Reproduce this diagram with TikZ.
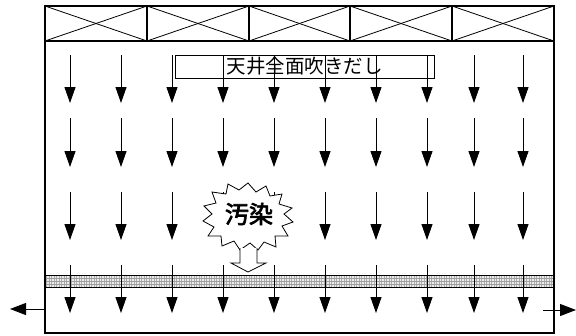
\documentclass[tikz,border=0pt]{standalone}
\usepackage{fontspec}
\newfontfamily\cjk{Noto Sans CJK JP}
\newfontfamily\cjkbold{Noto Sans CJK JP}[FakeBold=3]
\usetikzlibrary{arrows.meta}
\tikzset{
  frame/.style={line width=1.1pt, draw=black},
  thinframe/.style={line width=0.8pt, draw=black},
  flow/.style={line width=1pt, -{Triangle[length=16pt,width=11pt]}},
  exitarrow/.style={line width=1pt, -{Triangle[length=16pt,width=12pt]}},
  hatchv/.style={line width=0.35pt, draw=gray!65},
}
\begin{document}
\begin{tikzpicture}[x=1pt,y=-1pt]
\useasboundingbox (0,0) rectangle (576,335);
% ceiling band
\foreach \i/\a/\b in {1/45/147,2/147/249,3/249/350,4/350/452,5/452/554}{
  \coordinate (c\i tl) at (\a,6);
  \coordinate (c\i br) at (\b,41);
  \coordinate (c\i tr) at (\b,6);
  \coordinate (c\i bl) at (\a,41);
  \draw[thinframe] (c\i tl) -- (c\i br);
  \draw[thinframe] (c\i bl) -- (c\i tr);
  \draw[frame] (c\i tl) rectangle (c\i br);
}
% filter band
\coordinate (fA) at (45,275);
\coordinate (fB) at (554,287);
\fill[gray!15] (fA) rectangle (fB);
\foreach \x in {46.5,49,...,553}{
  \draw[hatchv] (\x,275) -- (\x,287);
}
\foreach \y in {278,281,284}{
  \draw[line width=0.35pt, gray!75] (45,\y) -- (554,\y);
}
\draw[line width=0.8pt] (fA) rectangle (fB);
% outer room
\coordinate (rTL) at (45,6);
\coordinate (rBR) at (554,333);
\draw[frame] (rTL) rectangle (rBR);
% label box
\node[draw, line width=0.8pt, minimum width=259pt, minimum height=23pt, inner sep=0pt,
      font=\cjk\fontsize{19.5}{21}\selectfont] (ceil) at (304.5,66.5) {天井全面吹きだし};
% flow arrows
\foreach \x [count=\n] in {70,121,172,223,274,325,376,427,474,523}{
  \coordinate (a\n r1s) at (\x,55);  \coordinate (a\n r1e) at (\x,103);
  \coordinate (a\n r2s) at (\x,118); \coordinate (a\n r2e) at (\x,167);
  \coordinate (a\n r3s) at (\x,192); \coordinate (a\n r3e) at (\x,240);
  \coordinate (a\n r4s) at (\x,265); \coordinate (a\n r4e) at (\x,313);
  \draw[flow] (a\n r1s) -- (a\n r1e);
  \draw[flow] (a\n r2s) -- (a\n r2e);
  \draw[flow] (a\n r3s) -- (a\n r3e);
  \draw[flow] (a\n r4s) -- (a\n r4e);
}
% exits
\coordinate (exL) at (10,309);
\coordinate (exR) at (576,310);
\coordinate (exRs) at (543,310);
\coordinate (exLs) at (45,309);
\draw[exitarrow] (exLs) -- (exL);
\draw[exitarrow] (exRs) -- (exR);
% contamination burst
\coordinate (burst) at (248,216);
\draw[line width=0.8pt, fill=white]
  (248,183) -- (256,192) -- (266,186) -- (270,196) -- (282,194) -- (279,204) -- (292,208) -- (284,214)
  -- (293,222) -- (282,226) -- (288,236) -- (275,236) -- (276,247) -- (264,242) -- (258,250) -- (250,243)
  -- (240,250) -- (234,241) -- (222,246) -- (221,236) -- (208,236) -- (214,227) -- (203,221) -- (212,214)
  -- (204,206) -- (216,203) -- (212,192) -- (226,194) -- (228,184) -- (239,190) -- cycle;
\node[font=\cjkbold\fontsize{24}{26}\selectfont, inner sep=0pt] (osen) at (249,214) {汚染};
% hollow arrow
\draw[line width=0.8pt, fill=white]
  (240,248) -- (240,263) -- (231,263) -- (248,272) -- (266,263) -- (257,263) -- (257,248);
\end{tikzpicture}
\end{document}
